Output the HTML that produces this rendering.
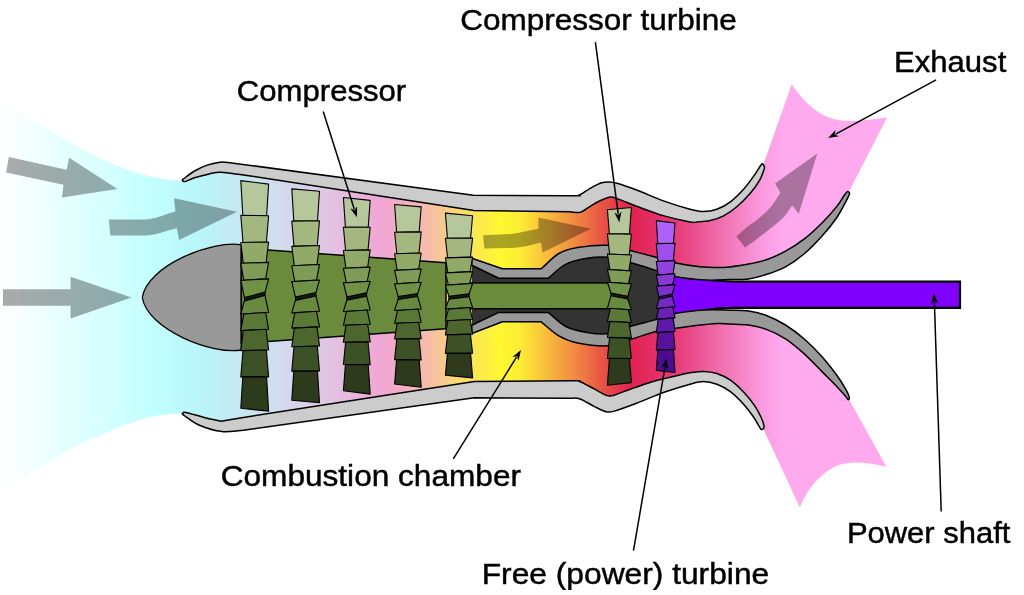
<!DOCTYPE html><html><head><meta charset="utf-8"><style>html,body{margin:0;padding:0;background:#fff;width:1024px;height:595px;overflow:hidden}svg{display:block}text{font-family:"Liberation Sans",sans-serif;font-size:29.6px;fill:#000;stroke:#000;stroke-width:0.45px}</style></head><body><svg width="1024" height="595" viewBox="0 0 1024 595"><defs><linearGradient id="bg" gradientUnits="userSpaceOnUse" x1="0" y1="0" x2="1024" y2="0"><stop offset="0.0000" stop-color="#ffffff"/><stop offset="0.1465" stop-color="#c4ffff"/><stop offset="0.1924" stop-color="#b8f6fa"/><stop offset="0.2344" stop-color="#c4e8f2"/><stop offset="0.2734" stop-color="#d2dcee"/><stop offset="0.3223" stop-color="#e1c4e2"/><stop offset="0.3711" stop-color="#f0a6d4"/><stop offset="0.4004" stop-color="#f4b0be"/><stop offset="0.4248" stop-color="#f7c2a0"/><stop offset="0.4590" stop-color="#fae45a"/><stop offset="0.4883" stop-color="#fff830"/><stop offset="0.5078" stop-color="#fdec34"/><stop offset="0.5322" stop-color="#f8c03c"/><stop offset="0.5518" stop-color="#f39b40"/><stop offset="0.5713" stop-color="#ee7642"/><stop offset="0.5908" stop-color="#e84e46"/><stop offset="0.6172" stop-color="#e12252"/><stop offset="0.6641" stop-color="#e83e7c"/><stop offset="0.7031" stop-color="#f06eac"/><stop offset="0.7422" stop-color="#fa98de"/><stop offset="0.7637" stop-color="#ffaaee"/><stop offset="1.0000" stop-color="#ffaaee"/></linearGradient><filter id="nf" x="0" y="0" width="1" height="1"><feOffset dx="0" dy="0"/></filter></defs><rect width="1024" height="595" fill="#fff"/><path d="M0,101.6 C1.67,102.6 1.63,102.58 5,104.6 C8.37,106.62 14.32,110.25 20.2,113.7 C26.08,117.15 33.58,121.52 40.3,125.3 C47.02,129.08 53.88,132.68 60.5,136.4 C67.12,140.12 73.17,143.83 80,147.6 C86.83,151.37 94.33,155.58 101.5,159 C108.67,162.42 115.85,165.42 123,168.1 C130.15,170.78 137.25,173.22 144.4,175.1 C151.55,176.98 159.47,178.5 165.9,179.4 C172.33,180.3 177.3,180.13 183,180.5 L221,167 L473.5,202.5 L575,203.5 L597,193 L609,189.5 L623,193 L640,198.7 L678,211.3 L700,216 L716,215 L729,211 L744,199 L755,184 L762.5,167 L791.7,84.2 C805,104 820,117 840,120.5 C858,122 875,119 887.1,117.6 L847.8,194 L841,211 L823,229 L804,246.5 L785.5,259 L767,267 L748.5,271.5 L730,273 L705,273 L676,270 L640,262 L640,330 L676,321 L705,317 L730,317 L748.5,318 L767,322.5 L785.5,332 L804,346 L822.5,364.5 L837,381 L846,393.5 L848.8,398.8 L886.5,466.9 C870,463 855,461 841.7,464.2 C826,468 809,485 799.8,507.5 L762.5,427 L757,411 L744,398 L730,386 L716.9,379 L703.5,376.5 L690,378.5 L664,387 L637,395 L610,404 L594,398 L579,390 L474,389.6 L243.4,423.8 L221,426 L183,413.3 C178.77,413.5 175.35,413.4 170.3,413.9 C165.25,414.4 158.57,415.03 152.7,416.3 C146.83,417.57 140.95,419.53 135.1,421.5 C129.25,423.47 123.45,425.75 117.6,428.1 C111.75,430.45 106.2,432.9 100,435.6 C93.8,438.3 87.03,441 80.4,444.3 C73.77,447.6 66.93,451.62 60.2,455.4 C53.47,459.18 46.7,462.9 40,467 C33.3,471.1 24.98,476.77 20,480 C15.02,483.23 13.43,484.17 10.1,486.4 C6.77,488.63 3.37,491.07 0,493.4 Z" fill="url(#bg)"/>
<path d="M471.8,262 L498.8,278.2 L548.2,278.2 L565.9,264.1 C575,259 590,257.2 608.2,257.2 L631,262.8 L656,270.4 L676,276.5 L676,313.5 L656,319.6 L631,326.2 L608.2,333.6 C590,333.6 575,331 565.9,326.5 L548.2,312.4 L498.8,312.4 L471.8,328 Z" fill="#333333"/>
<path d="M662,268 L676,272 C690,276 705,281.4 735,281.6 L960,281.6 L960,307.9 L735,307.9 C705,308.1 690,313 676,317 L662,322 Z" fill="#8000ff" stroke="#000" stroke-width="2.2"/>
<path d="M182.3,179.8 C186.37,176.87 190.35,173.45 194.5,171 C198.65,168.55 202.97,166.57 207.2,165.1 C211.43,163.63 216.43,162.65 219.9,162.2 C223.37,161.75 225.3,162.33 228,162.4 L473.4,195.2 C505.6,195.37 552.33,195.73 570,195.7 C587.67,195.67 576.03,196.23 579.4,195 C582.77,193.77 586.62,190.3 590.2,188.3 C593.78,186.3 597.77,184.07 600.9,183 C604.03,181.93 606.32,181.85 609,181.9 C611.68,181.95 612.3,181.9 617,183.3 C621.7,184.7 629.35,187.33 637.2,190.3 C645.05,193.27 655.3,197.95 664.1,201.1 C672.9,204.25 683.43,207.45 690,209.2 C696.57,210.95 699.02,211.6 703.5,211.6 C707.98,211.6 712.42,210.83 716.9,209.2 C721.38,207.57 725.92,205.17 730.4,201.8 C734.88,198.43 739.77,193.48 743.8,189 C747.83,184.52 751.68,178.97 754.6,174.9 C757.52,170.83 759.87,166.32 761.3,164.6 C762.73,162.88 762.68,164.17 763.2,164.6 C763.72,165.03 764.27,166.38 764.4,167.2 C764.53,168.02 764.73,167.43 764,169.5 C763.27,171.57 762.25,175.68 760,179.6 C757.75,183.52 754.32,188.52 750.5,193 C746.68,197.48 741.58,202.68 737.1,206.5 C732.62,210.32 728.08,213.55 723.6,215.9 C719.12,218.25 714.68,219.58 710.2,220.6 C705.72,221.62 700.07,221.77 696.7,222 C693.33,222.23 695.43,223.02 690,222 C684.57,220.98 672.9,218.48 664.1,215.9 C655.3,213.32 644.82,209.3 637.2,206.5 C629.58,203.7 623.1,200.63 618.4,199.1 C613.7,197.57 613.03,196.52 609,197.3 C604.97,198.08 598.9,201.33 594.2,203.8 C589.5,206.27 584.83,210.77 580.8,212.1 C576.77,213.43 573.6,211.9 570,211.8 L474,210.5 L243.4,174.9 C235.9,174.03 226.6,172.47 220.9,172.3 C215.2,172.13 213.6,172.98 209.2,173.9 C204.8,174.82 198.42,176.55 194.5,177.8 C190.58,179.05 187.62,180.83 185.7,181.4 C183.78,181.97 183.57,181.47 183,181.2 C182.43,180.93 182.53,180.27 182.3,179.8 Z" fill="#cccccc" stroke="#000" stroke-width="1.5" stroke-linejoin="round"/>
<path d="M182.3,413.6 C183.43,413.2 182.03,411.75 185.7,412.4 C189.37,413.05 198.43,416.03 204.3,417.5 C210.17,418.97 215.37,419.97 220.9,421.2 L243.4,417.5 L474.3,381.6 C506.2,381.33 552.48,380.82 570,380.8 C587.52,380.78 575.37,380.15 579.4,381.5 C583.43,382.85 589.27,386.48 594.2,388.9 C599.13,391.32 604.07,395.55 609,396 C613.93,396.45 616.85,393.9 623.8,391.6 C630.75,389.3 641.73,384.88 650.7,382.2 C659.67,379.52 671.05,377.07 677.6,375.5 C684.15,373.93 685.68,373.48 690,372.8 C694.32,372.12 699.02,371.28 703.5,371.4 C707.98,371.52 712.42,372.03 716.9,373.5 C721.38,374.97 725.92,377.07 730.4,380.2 C734.88,383.33 739.77,388.05 743.8,392.3 C747.83,396.55 751.68,401.45 754.6,405.7 C757.52,409.95 759.73,414.43 761.3,417.8 C762.87,421.17 763.63,424.12 764,425.9 C764.37,427.68 763.95,427.92 763.5,428.5 C763.05,429.08 761.88,429.5 761.3,429.4 C760.72,429.3 761.35,430.05 760,427.9 C758.65,425.75 755.9,420.42 753.2,416.5 C750.5,412.58 747.6,408.55 743.8,404.4 C740,400.25 734.88,394.97 730.4,391.6 C725.92,388.23 721.38,385.88 716.9,384.2 C712.42,382.52 707.98,381.5 703.5,381.5 C699.02,381.5 696.57,382.4 690,384.2 C683.43,386 672.9,389.17 664.1,392.3 C655.3,395.43 645.48,399.87 637.2,403 C628.92,406.13 619.55,409.63 614.4,411.1 C609.25,412.57 609.67,412.58 606.3,411.8 C602.93,411.02 598.68,408.58 594.2,406.4 C589.72,404.22 583.43,400.05 579.4,398.7 C575.37,397.35 573.13,398.43 570,398.3 L474.3,397.7 L243.4,430.2 C236.23,430.67 229.23,432.42 221.9,431.6 C214.57,430.78 205.58,427.9 199.4,425.3 C193.22,422.7 187.65,417.95 184.8,416 C181.95,414.05 183.13,414.4 182.3,413.6 Z" fill="#cccccc" stroke="#000" stroke-width="1.5" stroke-linejoin="round"/>
<path d="M471.8,258.2 L502.4,268.8 L541.2,268.8 C547.07,263.7 552.73,257.03 558.8,253.5 C564.87,249.97 569.37,248.97 577.6,247.6 C585.83,246.23 599.3,244.77 608.2,245.3 C617.1,245.83 623.03,248.8 631,250.8 C638.97,252.8 648.5,255.27 656,257.3 C663.5,259.33 668.67,261.42 676,263 C683.33,264.58 692.77,266.03 700,266.8 C707.23,267.57 714.4,267.58 719.4,267.6 C724.4,267.62 725.15,267.48 730,266.9 C734.85,266.32 742.33,265.33 748.5,264.1 C754.67,262.87 760.83,261.65 767,259.5 C773.17,257.35 779.33,254.58 785.5,251.2 C791.67,247.82 797.83,243.98 804,239.2 C810.17,234.42 816.97,228.05 822.5,222.5 C828.03,216.95 833.52,210.52 837.2,205.9 C840.88,201.28 842.9,197.18 844.6,194.8 C846.3,192.42 846.57,191.87 847.4,191.6 C848.23,191.33 849.45,192.38 849.6,193.2 C849.75,194.02 848.82,195.32 848.3,196.5 C847.78,197.68 848.35,196.88 846.5,200.3 C844.65,203.72 841.2,211.13 837.2,217 C833.2,222.87 828.03,229.33 822.5,235.5 C816.97,241.67 810.17,248.77 804,254 C797.83,259.23 791.67,263.52 785.5,266.9 C779.33,270.28 773.17,272.3 767,274.3 C760.83,276.3 754.67,278.02 748.5,278.9 C742.33,279.78 737.2,279.42 730,279.6 C722.8,279.78 714.47,280.52 705.3,280 C696.13,279.48 683.22,278.1 675,276.5 C666.78,274.9 663.33,272.68 656,270.4 C648.67,268.12 638.97,265 631,262.8 C623.03,260.6 615.53,257.97 608.2,257.2 C600.87,256.43 594.05,257.05 587,258.2 C579.95,259.35 572.37,260.77 565.9,264.1 C559.43,267.43 554.1,273.5 548.2,278.2 L498.8,278.2 L471.8,265.3 L471.8,258.2 Z" fill="#999999" stroke="#000" stroke-width="1.5" stroke-linejoin="round"/>
<path d="M471.8,325.3 L498.8,312.4 L548.2,312.4 C554.1,317.1 559.43,323.17 565.9,326.5 C572.37,329.83 579.95,331.22 587,332.4 C594.05,333.58 600.87,334.63 608.2,333.6 C615.53,332.57 623.03,328.53 631,326.2 C638.97,323.87 648.67,321.72 656,319.6 C663.33,317.48 666.78,315.1 675,313.5 C683.22,311.9 696.13,310.55 705.3,310 C714.47,309.45 722.8,310.02 730,310.2 C737.2,310.38 742.33,310.18 748.5,311.1 C754.67,312.02 760.83,313.38 767,315.7 C773.17,318.02 779.33,321.15 785.5,325 C791.67,328.85 797.83,333.42 804,338.8 C810.17,344.18 816.97,351.13 822.5,357.3 C828.03,363.47 833.2,370.25 837.2,375.8 C841.2,381.35 844.48,386.98 846.5,390.6 C848.52,394.22 849.05,396 849.3,397.5 C849.55,399 848.62,399.82 848,399.6 C847.38,399.38 847.4,398.32 845.6,396.2 C843.8,394.08 841.05,390.92 837.2,386.9 C833.35,382.88 828.03,377.65 822.5,372.1 C816.97,366.55 810.17,359.15 804,353.6 C797.83,348.05 791.67,342.8 785.5,338.8 C779.33,334.8 773.17,331.9 767,329.6 C760.83,327.3 754.67,325.93 748.5,325 C742.33,324.07 735.25,324.25 730,324 C724.75,323.75 722.67,323.25 717,323.5 C711.33,323.75 702.83,324.72 696,325.5 C689.17,326.28 682.67,327.2 676,328.2 C669.33,329.2 663.5,329.65 656,331.5 C648.5,333.35 638.97,336.92 631,339.3 C623.03,341.68 617.1,345.18 608.2,345.8 C599.3,346.42 585.83,344.65 577.6,343 C569.37,341.35 564.87,339.43 558.8,335.9 C552.73,332.37 547.07,326.5 541.2,321.8 L502.4,321.8 L471.8,333.5 L471.8,325.3 Z" fill="#999999" stroke="#000" stroke-width="1.5" stroke-linejoin="round"/>
<path d="M241.3,244.8 C213,239.8 147.3,265.2 142.3,297.5 C147.3,329.8 213,355.2 241.3,350 Z" fill="#999999" stroke="#000" stroke-width="1.3"/>
<path d="M241.3,248 L446,262.8 L446,328.8 L241.3,343.4 Z" fill="#6a8a3c" stroke="#000" stroke-width="1.5" stroke-linejoin="round"/>
<rect x="466" y="282.9" width="146" height="25.9" fill="#6a8a3c" stroke="#000" stroke-width="1.5"/>
<g stroke="#000" stroke-width="1.1" stroke-linejoin="round"><polygon points="240.8,180.6 268.6,184.1 266.6,215.7 242.8,215.21" fill="#b7c79c"/><polygon points="240.8,215.21 268.6,215.7 266.4,242.11 243,242.45" fill="#a3b77f"/><polygon points="240.8,242.45 268.6,242.11 266.1,262.34 243.3,263.31" fill="#91aa68"/><polygon points="240.8,263.31 268.6,262.34 265.6,278.86 243.8,280.35" fill="#7e9c56"/><polygon points="240.8,280.35 268.6,278.86 264.6,293.8 244.8,299.2" fill="#709246"/><polygon points="244.8,299.2 264.6,293.8 268.6,312.46 240.8,314.05" fill="#688a40"/><polygon points="243.8,314.05 265.6,312.46 268.6,329.31 240.8,330.48" fill="#5a7836"/><polygon points="243.3,330.48 266.1,329.31 268.6,349.94 240.8,350.61" fill="#4c662e"/><polygon points="243,350.61 266.4,349.94 268.6,376.87 240.8,376.88" fill="#3c5226"/><polygon points="242.8,376.88 266.6,376.87 268.6,411.1 240.8,408.3" fill="#2d3a1c"/><polygon points="244.5,297.5 264.9,292.1 264.9,295.5 244.5,300.9" fill="#161c0c"/></g>
<g stroke="#000" stroke-width="1.1" stroke-linejoin="round"><polygon points="291.8,188.9 319.5,191.3 317.5,220.81 293.8,221.1" fill="#b7c79c"/><polygon points="291.8,221.1 319.5,220.81 317.3,245.53 294,246.39" fill="#a3b77f"/><polygon points="291.8,246.39 319.5,245.53 317,264.47 294.3,265.76" fill="#91aa68"/><polygon points="291.8,265.76 319.5,264.47 316.5,279.93 294.8,281.58" fill="#7e9c56"/><polygon points="291.8,281.58 319.5,279.93 315.5,294.2 295.8,298.8" fill="#709246"/><polygon points="295.8,298.8 315.5,294.2 319.5,311.23 291.8,312.85" fill="#688a40"/><polygon points="294.8,312.85 316.5,311.23 319.5,326.86 291.8,328.09" fill="#5a7836"/><polygon points="294.3,328.09 317,326.86 319.5,345.99 291.8,346.76" fill="#4c662e"/><polygon points="294,346.76 317.3,345.99 319.5,370.97 291.8,371.13" fill="#3c5226"/><polygon points="293.8,371.13 317.5,370.97 319.5,402.8 291.8,400.2" fill="#2d3a1c"/><polygon points="295.5,297.1 315.8,292.5 315.8,295.9 295.5,300.5" fill="#161c0c"/></g>
<g stroke="#000" stroke-width="1.1" stroke-linejoin="round"><polygon points="343.4,197.5 370.2,200.4 368.2,227.27 345.4,227.21" fill="#b7c79c"/><polygon points="343.4,227.21 370.2,227.27 368,249.85 345.6,250.47" fill="#a3b77f"/><polygon points="343.4,250.47 370.2,249.85 367.7,267.15 345.9,268.3" fill="#91aa68"/><polygon points="343.4,268.3 370.2,267.15 367.2,281.28 346.4,282.85" fill="#7e9c56"/><polygon points="343.4,282.85 370.2,281.28 366.2,294.5 347.4,298.5" fill="#709246"/><polygon points="347.4,298.5 366.2,294.5 370.2,309.94 343.4,311.46" fill="#688a40"/><polygon points="346.4,311.46 367.2,309.94 370.2,324.29 343.4,325.32" fill="#5a7836"/><polygon points="345.9,325.32 367.7,324.29 370.2,341.86 343.4,342.29" fill="#4c662e"/><polygon points="345.6,342.29 368,341.86 370.2,364.8 343.4,364.45" fill="#3c5226"/><polygon points="345.4,364.45 368.2,364.8 370.2,394.1 343.4,390.8" fill="#2d3a1c"/><polygon points="347.1,296.9 366.5,292.9 366.5,296.1 347.1,300.1" fill="#161c0c"/></g>
<g stroke="#000" stroke-width="1.1" stroke-linejoin="round"><polygon points="394.6,204.5 421.2,206.9 419.2,231.88 396.6,232.18" fill="#b7c79c"/><polygon points="394.6,232.18 421.2,231.88 419,252.94 396.8,253.8" fill="#a3b77f"/><polygon points="394.6,253.8 421.2,252.94 418.7,269.07 397.1,270.36" fill="#91aa68"/><polygon points="394.6,270.36 421.2,269.07 418.2,282.24 397.6,283.88" fill="#7e9c56"/><polygon points="394.6,283.88 421.2,282.24 417.2,295 398.6,298" fill="#709246"/><polygon points="398.6,298 417.2,295 421.2,308.94 394.6,310.45" fill="#688a40"/><polygon points="397.6,310.45 418.2,308.94 421.2,322.29 394.6,323.31" fill="#5a7836"/><polygon points="397.1,323.31 418.7,322.29 421.2,338.63 394.6,339.06" fill="#4c662e"/><polygon points="396.8,339.06 419,338.63 421.2,359.97 394.6,359.62" fill="#3c5226"/><polygon points="396.6,359.62 419.2,359.97 421.2,387.3 394.6,384" fill="#2d3a1c"/><polygon points="398.3,296.55 417.5,293.55 417.5,296.45 398.3,299.45" fill="#161c0c"/></g>
<g stroke="#000" stroke-width="1.1" stroke-linejoin="round"><polygon points="445.4,213.1 472.6,215.7 470.6,238.13 447.4,238.29" fill="#b7c79c"/><polygon points="445.4,238.29 472.6,238.13 470.4,257.12 447.6,257.88" fill="#a3b77f"/><polygon points="445.4,257.88 472.6,257.12 470.1,271.66 447.9,272.9" fill="#91aa68"/><polygon points="445.4,272.9 472.6,271.66 469.6,283.54 448.4,285.16" fill="#7e9c56"/><polygon points="445.4,285.16 472.6,283.54 468.6,295.2 449.4,297.8" fill="#709246"/><polygon points="449.4,297.8 468.6,295.2 472.6,307.55 445.4,309.15" fill="#688a40"/><polygon points="448.4,309.15 469.6,307.55 472.6,319.51 445.4,320.72" fill="#5a7836"/><polygon points="447.9,320.72 470.1,319.51 472.6,334.16 445.4,334.88" fill="#4c662e"/><polygon points="447.6,334.88 470.4,334.16 472.6,353.29 445.4,353.38" fill="#3c5226"/><polygon points="447.4,353.38 470.6,353.29 472.6,377.9 445.4,375.2" fill="#2d3a1c"/><polygon points="449.1,296.4 468.9,293.8 468.9,296.6 449.1,299.2" fill="#161c0c"/></g>
<g stroke="#000" stroke-width="1.1" stroke-linejoin="round"><polygon points="607.4,209.8 631.4,207.5 629.4,234.16 609.4,233.8" fill="#b7c79c"/><polygon points="607.4,233.8 631.4,234.16 629.2,254.96 609.6,254.06" fill="#a3b77f"/><polygon points="607.4,254.06 631.4,254.96 628.9,270.89 609.9,269.57" fill="#91aa68"/><polygon points="607.4,269.57 631.4,270.89 628.4,283.9 610.4,282.24" fill="#7e9c56"/><polygon points="607.4,282.24 631.4,283.9 627.4,297.6 611.4,294.4" fill="#709246"/><polygon points="611.4,294.4 627.4,297.6 631.4,309.82 607.4,308.22" fill="#688a40"/><polygon points="610.4,308.22 628.4,309.82 631.4,322.55 607.4,321.34" fill="#5a7836"/><polygon points="609.9,321.34 628.9,322.55 631.4,338.14 607.4,337.42" fill="#4c662e"/><polygon points="609.6,337.42 629.2,338.14 631.4,358.49 607.4,358.4" fill="#3c5226"/><polygon points="609.4,358.4 629.4,358.49 631.4,382.6 607.4,385.3" fill="#2d3a1c"/><polygon points="611.1,293.1 627.7,296.3 627.7,298.9 611.1,295.7" fill="#161c0c"/></g>
<g stroke="#000" stroke-width="1.1" stroke-linejoin="round"><polygon points="656.3,220.6 675,223 673.5,243.31 657.8,243.61" fill="#b060fa"/><polygon points="656.3,243.61 675,243.31 673.35,260.59 657.95,261.45" fill="#9e4eec"/><polygon points="656.3,261.45 675,260.59 673.12,273.82 658.17,275.11" fill="#9242e0"/><polygon points="656.3,275.11 675,273.82 672.75,284.62 658.55,286.27" fill="#8838d6"/><polygon points="656.3,286.27 675,284.62 672,295.2 659.3,297.8" fill="#7e2ecc"/><polygon points="659.3,297.8 672,295.2 675,306.73 656.3,308.45" fill="#7628c4"/><polygon points="658.55,308.45 672.75,306.73 675,317.89 656.3,319.33" fill="#6c20b8"/><polygon points="658.17,319.33 673.12,317.89 675,331.55 656.3,332.65" fill="#6018aa"/><polygon points="657.95,332.65 673.35,331.55 675,349.39 656.3,350.04" fill="#56129e"/><polygon points="657.8,350.04 673.5,349.39 675,372.4 656.3,370.5" fill="#4c0c92"/><polygon points="659,296.7 672.3,294.1 672.3,296.3 659,298.9" fill="#3a1070"/></g>
<path d="M8.9,157.1 L66.6,169.8 L69.2,157.8 L117.4,188.9 L62,197.4 L63.5,184.7 L6.1,172.4 Z" fill="#000" fill-opacity="0.33"/>
<path d="M108.8,219.4 L143.9,219.4 C155,219.4 165,214 175.4,211.4 L174,198.2 L237,211.8 L179.1,239.9 L176.9,228.2 C165,231 155,235.5 144,235.5 L110.3,235.5 Z" fill="#000" fill-opacity="0.33"/>
<path d="M2.9,289.3 L70.6,289.3 L70.6,276.8 L131.5,297.6 L70.6,318.6 L70.6,305.7 L2.9,305.7 Z" fill="#000" fill-opacity="0.33"/>
<path d="M483,235.3 L511,234 C520,233 530,230 538.4,228.7 L538.4,217.5 L591,228.7 L542.5,252.6 L541.1,242.4 C530,245 520,247.9 511,247.9 L484.4,248.5 Z" fill="#000" fill-opacity="0.33"/>
<path d="M736.4,236.5 C739.87,233.4 742.83,230.42 746.8,227.2 C750.77,223.98 756,220.83 760.2,217.2 C764.4,213.57 768.63,209.47 772,205.4 C775.37,201.33 777.6,197 780.4,192.8 L775,183.6 L817.3,153.4 L798.8,213.8 L792.1,205.4 C789.3,209.33 787.05,213.57 783.7,217.2 C780.35,220.83 776.47,223.57 772,227.2 C767.53,230.83 761.38,235.63 756.9,239 C752.42,242.37 749.03,244.6 745.1,247.4 L736.4,236.5 Z" fill="#000" fill-opacity="0.33"/>
<line x1="323.2" y1="111.6" x2="354.32" y2="209.2" stroke="#000" stroke-width="1.5"/><polygon points="356.9,217.3 350.28,208.39 354.67,210.3 357.14,206.2" fill="#000"/>
<line x1="595.4" y1="42.2" x2="618.18" y2="213.97" stroke="#000" stroke-width="1.5"/><polygon points="619.3,222.4 614.35,212.46 618.33,215.11 621.49,211.52" fill="#000"/>
<line x1="936.1" y1="79.9" x2="835.58" y2="134.07" stroke="#000" stroke-width="1.5"/><polygon points="828.1,138.1 835.64,129.95 834.57,134.61 839.05,136.29" fill="#000"/>
<line x1="453.3" y1="458.9" x2="516.51" y2="357.22" stroke="#000" stroke-width="1.5"/><polygon points="521,350 518.51,360.82 517.12,356.24 512.4,357.02" fill="#000"/>
<line x1="633.5" y1="550.6" x2="665.06" y2="366.68" stroke="#000" stroke-width="1.5"/><polygon points="666.5,358.3 668.27,369.26 665.26,365.54 661.18,368.04" fill="#000"/>
<line x1="941.2" y1="511.5" x2="934.38" y2="301.8" stroke="#000" stroke-width="1.5"/><polygon points="934.1,293.3 938.04,303.68 934.34,300.65 930.84,303.91" fill="#000"/>
<g filter="url(#nf)">
<text x="460.2" y="29.9" textLength="276.5" lengthAdjust="spacingAndGlyphs">Compressor turbine</text>
<text x="894" y="72.1" textLength="112.3" lengthAdjust="spacingAndGlyphs">Exhaust</text>
<text x="236.8" y="101" textLength="169.4" lengthAdjust="spacingAndGlyphs">Compressor</text>
<text x="220.7" y="486.1" textLength="300.3" lengthAdjust="spacingAndGlyphs">Combustion chamber</text>
<text x="846.9" y="543.4" textLength="163.5" lengthAdjust="spacingAndGlyphs">Power shaft</text>
<text x="481.7" y="583.5" textLength="287.5" lengthAdjust="spacingAndGlyphs">Free (power) turbine</text>
</g></svg></body></html>
